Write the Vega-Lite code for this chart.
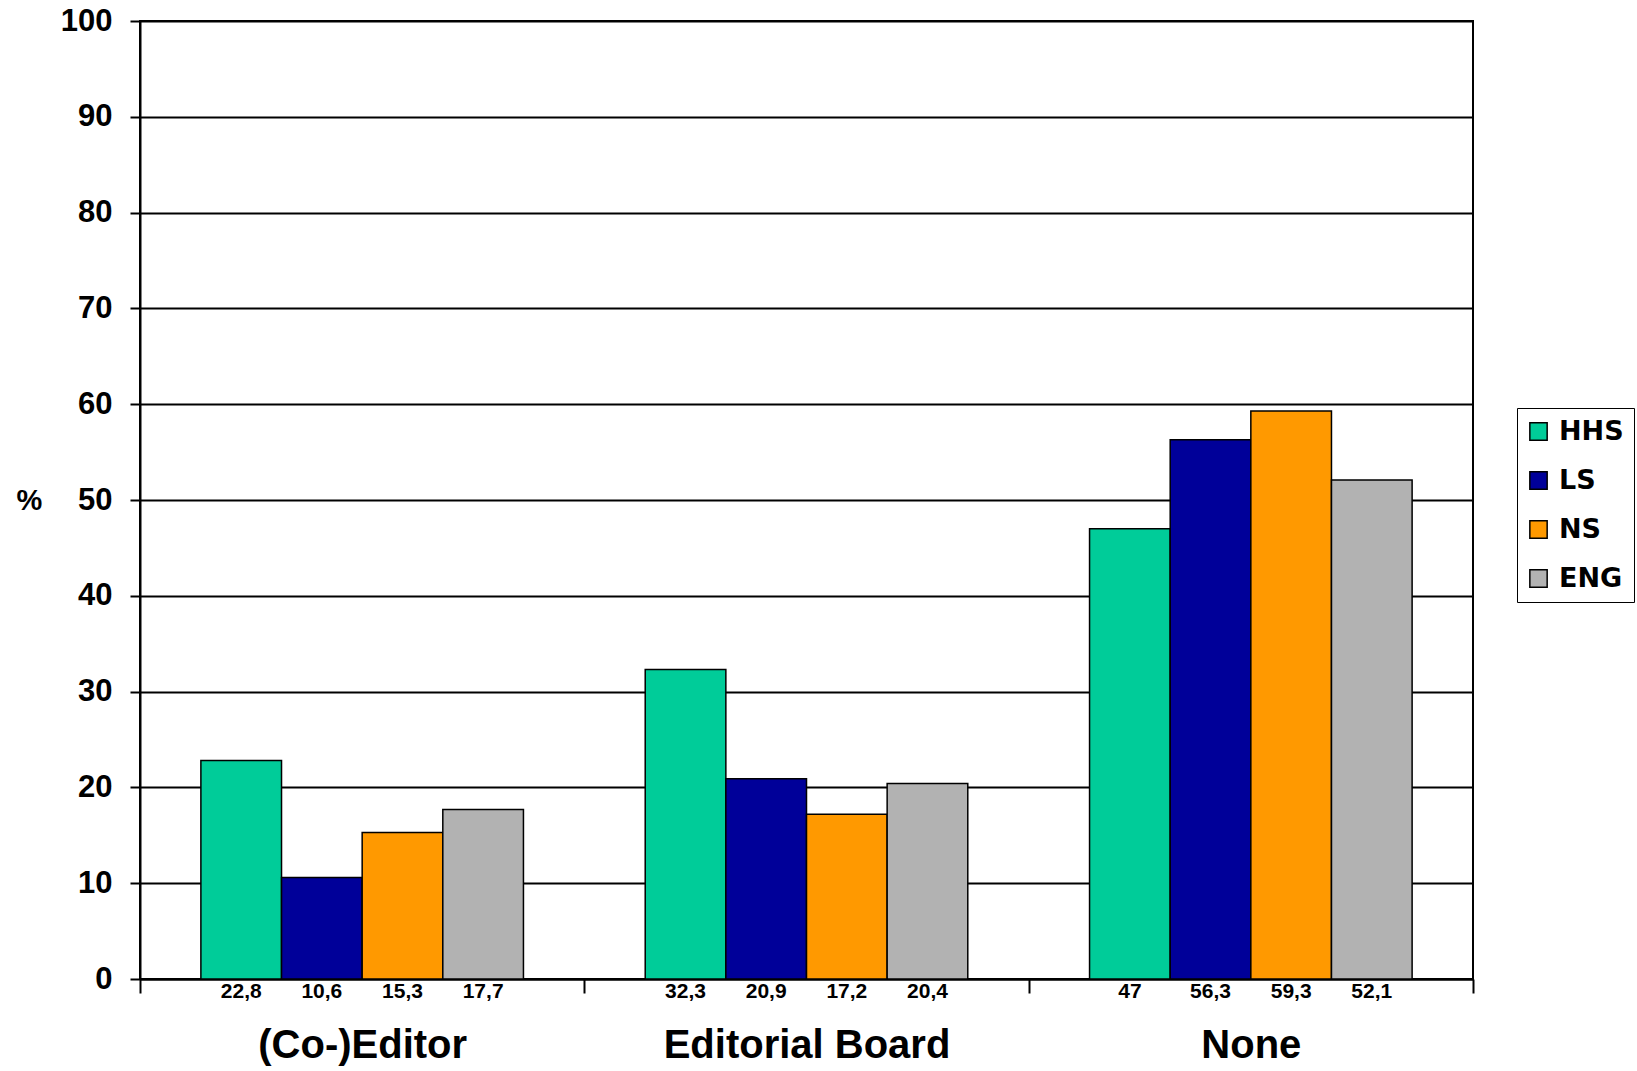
{
  "$schema": "https://vega.github.io/schema/vega-lite/v6.json",
  "width": 1333,
  "height": 958,
  "autosize": {"type": "none"},
  "padding": {"left": 140, "top": 21, "right": 164, "bottom": 92},
  "background": "white",
  "config": {
    "locale": {"number": {"decimal": ",", "thousands": ".", "grouping": [3], "currency": ["", "€"]}},
    "view": {"stroke": "black", "strokeWidth": 2},
    "font": "Liberation Sans"
  },
  "data": {
    "values": [
      {"role": "(Co-)Editor", "grp": "HHS", "pct": 22.8},
      {"role": "(Co-)Editor", "grp": "LS", "pct": 10.6},
      {"role": "(Co-)Editor", "grp": "NS", "pct": 15.3},
      {"role": "(Co-)Editor", "grp": "ENG", "pct": 17.7},
      {"role": "Editorial Board", "grp": "HHS", "pct": 32.3},
      {"role": "Editorial Board", "grp": "LS", "pct": 20.9},
      {"role": "Editorial Board", "grp": "NS", "pct": 17.2},
      {"role": "Editorial Board", "grp": "ENG", "pct": 20.4},
      {"role": "None", "grp": "HHS", "pct": 47},
      {"role": "None", "grp": "LS", "pct": 56.3},
      {"role": "None", "grp": "NS", "pct": 59.3},
      {"role": "None", "grp": "ENG", "pct": 52.1}
    ]
  },
  "encoding": {
    "x": {
      "field": "role", "type": "nominal",
      "sort": ["(Co-)Editor", "Editorial Board", "None"],
      "scale": {"paddingInner": 0, "paddingOuter": 0},
      "axis": {
        "title": null, "labelAngle": 0, "tickBand": "extent",
        "tickSize": 14, "tickWidth": 2, "tickColor": "black",
        "domainColor": "black", "domainWidth": 2,
        "labelFont": "Liberation Sans", "labelFontSize": 40, "labelFontWeight": "bold",
        "labelColor": "black", "labelPadding": 32, "labelLimit": 0
      }
    },
    "xOffset": {
      "field": "grp", "type": "nominal",
      "sort": ["HHS", "LS", "NS", "ENG"],
      "scale": {"paddingInner": 0, "paddingOuter": 0.755}
    }
  },
  "layer": [
    {
      "mark": {"type": "bar", "stroke": "black", "strokeWidth": 1.5},
      "encoding": {
        "y": {
          "field": "pct", "type": "quantitative",
          "scale": {"domain": [0, 100], "nice": false},
          "axis": {
            "values": [0, 10, 20, 30, 40, 50, 60, 70, 80, 90, 100],
            "grid": true, "gridColor": "black", "gridWidth": 2, "gridOpacity": 1,
            "domainColor": "black", "domainWidth": 2,
            "tickColor": "black", "tickWidth": 2, "tickSize": 10,
            "labelFont": "Liberation Sans", "labelFontSize": 31, "labelFontWeight": "bold",
            "labelColor": "black", "labelPadding": 18,
            "title": "%", "titleAngle": 0, "titleFontSize": 29, "titleFontWeight": "bold",
            "titleColor": "black", "titleFont": "Liberation Sans",
            "titleX": -111, "titleY": 479, "titleAlign": "center", "titleBaseline": "middle"
          }
        },
        "color": {
          "field": "grp", "type": "nominal",
          "scale": {"domain": ["HHS", "LS", "NS", "ENG"], "range": ["#00CC99", "#000099", "#FF9900", "#B2B2B2"]},
          "legend": {
            "title": null, "orient": "none", "legendX": 1377, "legendY": 387,
            "symbolType": "square", "symbolSize": 300, "symbolOffset": -2,
            "symbolStrokeColor": "black", "symbolStrokeWidth": 1.5,
            "labelFont": "DejaVu Sans", "labelFontSize": 27, "labelFontWeight": "bold",
            "labelColor": "black", "labelOffset": 7, "rowPadding": 21,
            "padding": 10, "strokeColor": "black", "fillColor": "white"
          }
        }
      }
    },
    {
      "mark": {"type": "text", "dy": 13, "fontSize": 21, "fontWeight": "bold", "baseline": "middle", "color": "black", "font": "Liberation Sans"},
      "encoding": {
        "y": {"datum": 0, "type": "quantitative"},
        "text": {"field": "pct", "type": "quantitative", "format": ".4~r"}
      }
    }
  ]
}
